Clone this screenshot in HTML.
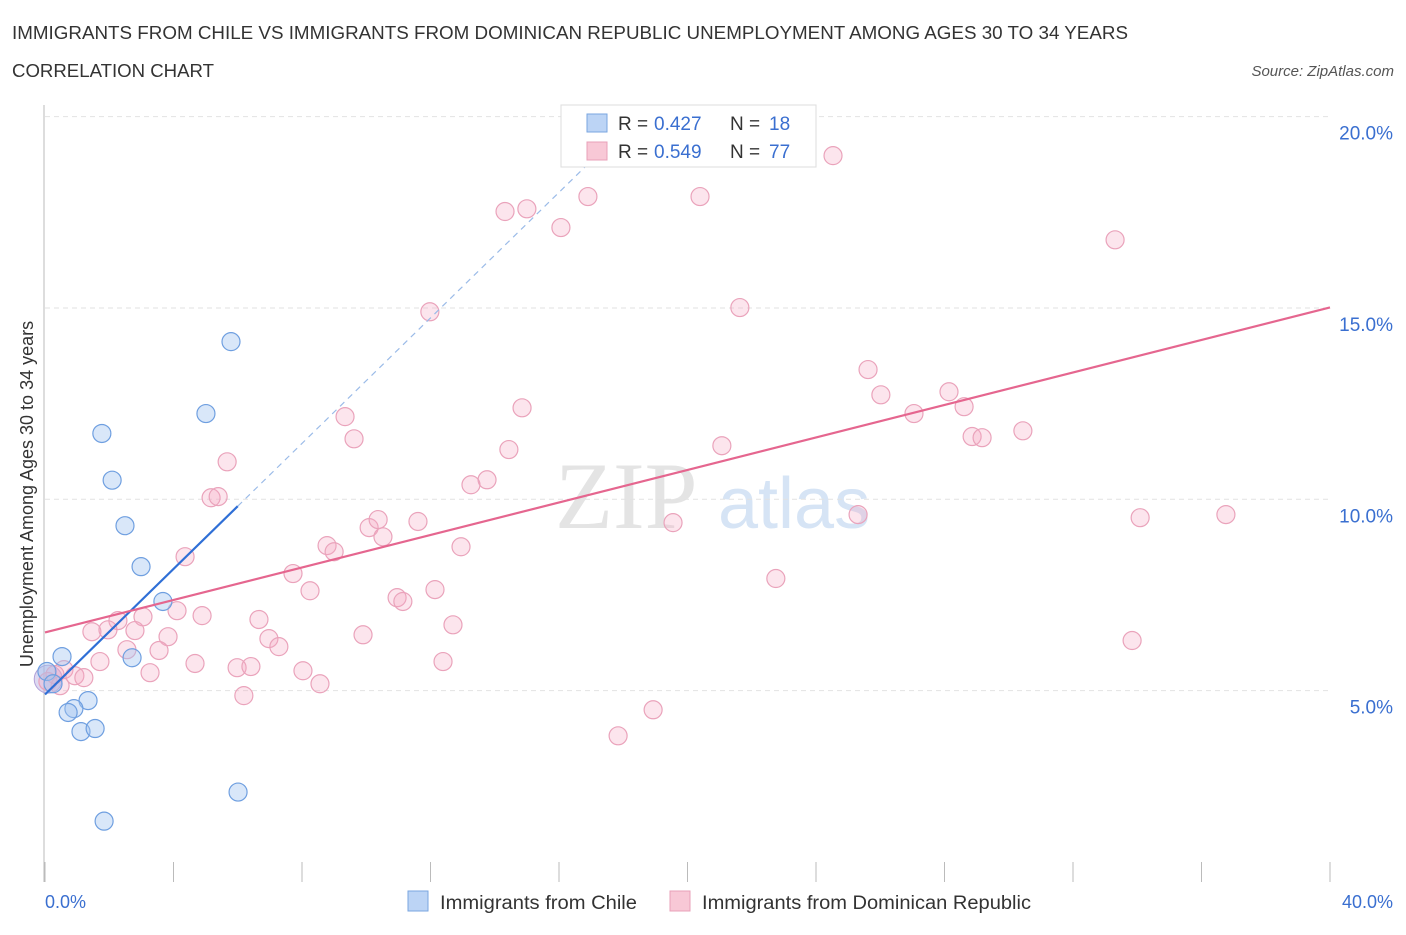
<!DOCTYPE html>
<html><head><meta charset="utf-8"><style>
body{margin:0;background:#fff;font-family:"Liberation Sans",sans-serif;}
</style></head><body>
<svg width="1406" height="930" viewBox="0 0 1406 930" xmlns="http://www.w3.org/2000/svg">
<text x="12" y="39" font-size="18" fill="#333" textLength="1116" lengthAdjust="spacingAndGlyphs">IMMIGRANTS FROM CHILE VS IMMIGRANTS FROM DOMINICAN REPUBLIC UNEMPLOYMENT AMONG AGES 30 TO 34 YEARS</text>
<text x="12" y="77" font-size="18" fill="#333" textLength="202" lengthAdjust="spacingAndGlyphs">CORRELATION CHART</text>
<text x="1394" y="76" font-size="15" fill="#555" font-style="italic" text-anchor="end">Source: ZipAtlas.com</text>
<text x="555" y="528" font-size="95" fill="#e4e4e4" font-family="Liberation Serif,serif">ZIP</text>
<text x="718" y="528" font-size="72" fill="#d6e4f5">atlas</text>
<g id="grid"></g>
<line x1="44" y1="105" x2="44" y2="882" stroke="#bbb"/>
<g id="xticks"></g>
<text x="33" y="494" font-size="18" fill="#333" text-anchor="middle" transform="rotate(-90 33 494)">Unemployment Among Ages 30 to 34 years</text>
<text x="45" y="908" font-size="18" fill="#3a6fd0">0.0%</text>
<text x="1393" y="908" font-size="18" fill="#3a6fd0" text-anchor="end">40.0%</text>
<g id="pts"></g>
<g id="lines"></g>
<g>
<rect x="561" y="105" width="255" height="62" fill="#fff" stroke="#ddd"/>
<rect x="587" y="114" width="20" height="18" fill="#bcd4f5" stroke="#7aa6e0"/>
<text x="618" y="130" font-size="19" fill="#333">R = </text>
<text x="654" y="130" font-size="19" fill="#3a6fd0">0.427</text>
<text x="730" y="130" font-size="19" fill="#333">N = </text>
<text x="769" y="130" font-size="19" fill="#3a6fd0">18</text>
<rect x="587" y="142" width="20" height="18" fill="#f8c8d6" stroke="#e8a0b8"/>
<text x="618" y="158" font-size="19" fill="#333">R = </text>
<text x="654" y="158" font-size="19" fill="#3a6fd0">0.549</text>
<text x="730" y="158" font-size="19" fill="#333">N = </text>
<text x="769" y="158" font-size="19" fill="#3a6fd0">77</text>
</g>
<g>
<rect x="408" y="891" width="20" height="20" fill="#bcd4f5" stroke="#7aa6e0"/>
<text x="440" y="909" font-size="19" fill="#333" textLength="197" lengthAdjust="spacingAndGlyphs">Immigrants from Chile</text>
<rect x="670" y="891" width="20" height="20" fill="#f8c8d6" stroke="#e8a0b8"/>
<text x="702" y="909" font-size="19" fill="#333" textLength="329" lengthAdjust="spacingAndGlyphs">Immigrants from Dominican Republic</text>
</g>
</svg>
<script>
const yTicks=[5,10,15,20];
const xTicks=[0,4,8,12,16,20,24,28,32,36,40];
const chileX=[5.79,5.01,1.77,2.09,2.49,2.99,3.67,2.71,0.53,0.06,0.25,1.34,0.90,0.72,1.12,1.56,6.01,1.84];
const chileY=[14.12,12.24,11.72,10.50,9.31,8.24,7.33,5.86,5.89,5.50,5.18,4.74,4.53,4.43,3.93,4.01,2.35,1.59];
const domX=[24.53,16.90,20.39,14.32,15.00,16.06,33.31,21.63,11.98,25.62,26.02,28.14,28.61,27.05,14.85,9.34,9.62,21.07,14.44,28.86,29.17,30.44,5.67,13.76,13.26,5.17,5.39,19.55,25.31,34.09,36.76,10.09,10.37,10.52,11.61,12.95,8.78,9.00,4.36,7.72,8.25,22.75,12.14,10.96,11.14,4.11,4.89,3.05,6.66,2.27,1.46,1.96,2.80,3.83,12.70,9.90,6.97,7.28,33.84,2.55,3.55,1.71,4.67,5.98,6.41,8.03,12.39,3.27,0.59,0.93,1.21,8.56,6.19,18.93,17.84,0.09,0.31,0.47];
const domY=[18.98,17.91,17.91,17.52,17.59,17.10,16.78,15.01,14.90,13.39,12.73,12.81,12.42,12.24,12.39,12.16,11.58,11.40,11.30,11.64,11.61,11.79,10.98,10.51,10.38,10.04,10.07,9.39,9.60,9.52,9.60,9.26,9.47,9.02,9.42,8.76,8.79,8.63,8.50,8.06,7.61,7.93,7.64,7.43,7.33,7.09,6.96,6.93,6.86,6.83,6.54,6.59,6.57,6.41,6.72,6.46,6.36,6.15,6.31,6.07,6.05,5.76,5.71,5.60,5.63,5.52,5.76,5.47,5.55,5.39,5.34,5.18,4.87,4.50,3.82,5.24,5.42,5.13];
const chileFit=[4.9,0.82];
const domFit=[6.52,0.2123];
const X=v=>45+v*32.125, Y=v=>882-v*38.27;
const NS='http://www.w3.org/2000/svg';
function mk(t,a,p){const e=document.createElementNS(NS,t);for(const k in a)e.setAttribute(k,a[k]);p.appendChild(e);return e;}
const grid=document.getElementById('grid');
yTicks.forEach(t=>{
 const l=mk('line',{x1:45,x2:1330,y1:Y(t),y2:Y(t),stroke:'#e2e2e2','stroke-dasharray':'5,4'},grid);
 
 
 const tx=mk('text',{x:1393,y:Y(t)+23,'font-size':19,fill:'#3a6fd0','text-anchor':'end'},grid);
 tx.textContent=t.toFixed(1)+'%';
 
 
});
const xt=document.getElementById('xticks');
xTicks.forEach(t=>{
 const l=mk('line',{x1:X(t),x2:X(t),y1:862,y2:882,stroke:'#bbb'},xt);
 
 
});
const pts=document.getElementById('pts');
let big=mk('circle',{cx:X(0.1),cy:Y(5.3),r:14,fill:'rgba(180,170,225,0.45)',stroke:'#b0a0d8'},pts);


domX.forEach((x,i)=>{
 const c=mk('circle',{cx:X(x),cy:Y(domY[i]),r:9,fill:'rgba(244,170,195,0.3)',stroke:'#eaa3bb','stroke-width':1.2},pts);
 
 
});
chileX.forEach((x,i)=>{
 const c=mk('circle',{cx:X(x),cy:Y(chileY[i]),r:9,fill:'rgba(160,195,240,0.4)',stroke:'#6f9fe0','stroke-width':1.2},pts);
 
 
});
const ln=document.getElementById('lines');
let a=mk('line',{x1:X(0),y1:Y(chileFit[0]),x2:X(6),y2:Y(chileFit[0]+6*chileFit[1]),stroke:'#2f6fd6','stroke-width':2.2},ln);


let b=mk('line',{x1:X(6),y1:Y(chileFit[0]+6*chileFit[1]),x2:X(17),y2:Y(chileFit[0]+17*chileFit[1]),stroke:'#9bbbe8','stroke-width':1.2,'stroke-dasharray':'6,5'},ln);


let d=mk('line',{x1:X(0),y1:Y(domFit[0]),x2:X(40),y2:Y(domFit[0]+40*domFit[1]),stroke:'#e5668f','stroke-width':2.2},ln);


</script>
</body></html>
